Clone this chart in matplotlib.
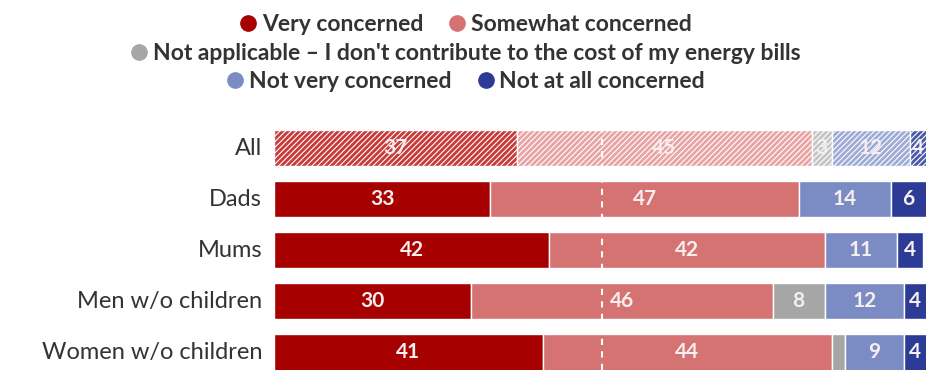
import numpy as np
import matplotlib
matplotlib.use("Agg")
import matplotlib.pyplot as plt
from matplotlib.lines import Line2D

groups = ["All", "Dads", "Mums", "Men w/o children", "Women w/o children"]
very = [37, 33, 42, 30, 41]
somewhat = [45, 47, 42, 46, 44]
not_applicable = [3, 0, 0, 8, 2]
not_very = [12, 14, 11, 12, 9]
not_at_all = [4, 6, 4, 4, 4]

series_names = ["Very concerned", "Somewhat concerned",
                "Not applicable \u2013 I don't contribute to the cost of my energy bills",
                "Not very concerned", "Not at all concerned"]
colors = ["#a60000", "#d57272", "#a6a6a6", "#7b8cc4", "#2b3b96"]
all_colors = ["#c93a3a", "#e8a4a4", "#c4c4c4", "#9dabd6", "#4a5aa8"]

plt.rcParams['font.family'] = ['Lato', 'DejaVu Sans']
plt.rcParams['hatch.linewidth'] = 0.8

fig = plt.figure(figsize=(9.26, 3.7), dpi=100)
ax = fig.add_axes([274 / 926, 0, 652 / 926, (370 - 122.5) / 370])
xmax = 99.4

values = [very, somewhat, not_applicable, not_very, not_at_all]
y = np.arange(len(groups))
left = np.zeros(len(groups))
for k, vals in enumerate(values):
    vals = np.array(vals, dtype=float)
    for i in range(len(groups)):
        if vals[i] <= 0:
            continue
        if i == 0:
            ax.barh(y[i], vals[i], left=left[i], height=0.72, color=all_colors[k],
                    edgecolor="white", linewidth=1.0, hatch="//////")
        else:
            ax.barh(y[i], vals[i], left=left[i], height=0.72, color=colors[k],
                    edgecolor="white", linewidth=1.0)
        if vals[i] >= 3:
            right = min(left[i] + vals[i], xmax)
            ax.text((left[i] + right) / 2, y[i], f"{int(vals[i])}", ha="center", va="center",
                    color="#f7eeee", fontsize=15, fontweight="bold", zorder=6)
    left += vals

ax.axvline(50, color="white", linestyle=(0, (3, 3)), linewidth=1.5, zorder=5)

ax.set_xlim(0, xmax)
ax.set_ylim(4.35, -0.5)
ax.axis("off")

for i, g in enumerate(groups):
    ax.text(-1.8, y[i], g, ha="right", va="center", fontsize=17, color="#333333")

rows = [[0, 1], [2], [3, 4]]
tops = [1.005, 0.928, 0.851]
for r, top in zip(rows, tops):
    handles = [Line2D([], [], marker="o", linestyle="", markersize=11,
                      markerfacecolor=colors[k], markeredgecolor=colors[k]) for k in r]
    fig.legend(handles, [series_names[k] for k in r], loc="upper center",
               bbox_to_anchor=(0.5, top), ncol=len(r), frameon=False,
               handletextpad=0.0, columnspacing=0.9, handlelength=1.2,
               prop={"size": 16.5, "weight": "bold"}, labelcolor="#333333",
               borderpad=0.2)

fig.savefig("out.png", dpi=100)
